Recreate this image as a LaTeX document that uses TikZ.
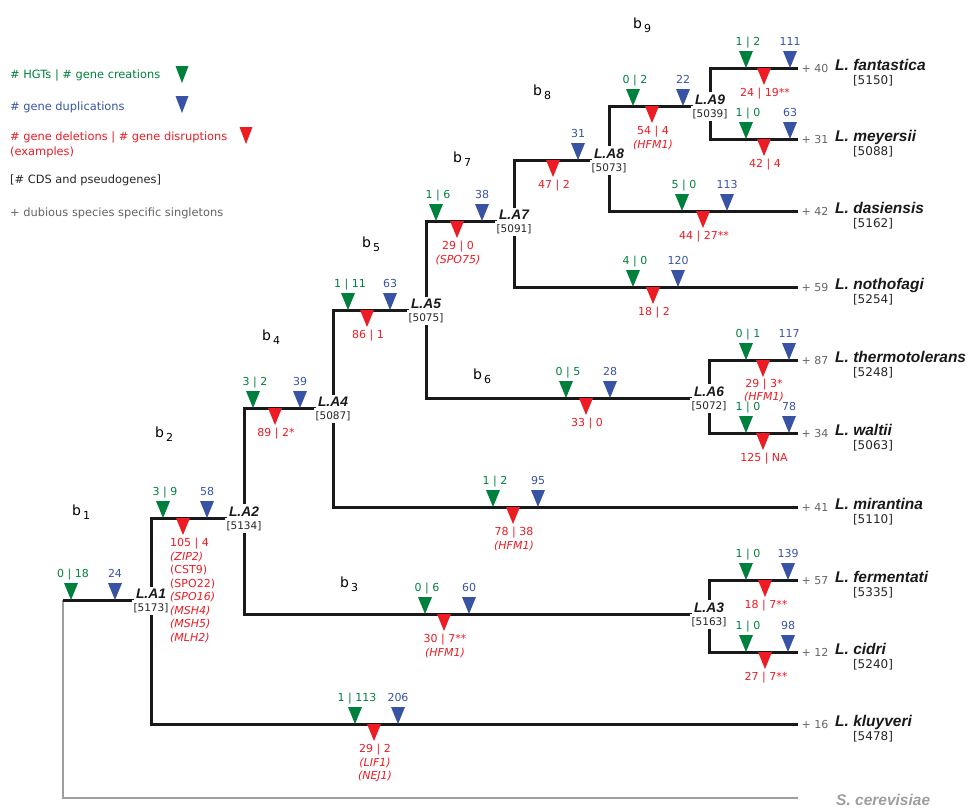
\documentclass[tikz,border=0pt]{standalone}
\usepackage{fontspec}
\setmainfont{DejaVu Sans}
\newfontfamily\spfont{Liberation Sans}
\definecolor{hgtc}{RGB}{0,128,61}
\definecolor{dupc}{RGB}{57,83,164}
\definecolor{delc}{RGB}{237,28,36}
\definecolor{rootc}{RGB}{158,158,158}
\definecolor{plusc}{RGB}{100,100,100}

\newcommand{\hgtmark}[4]{%
  \fill[hgtc] (#2,#3) -- ++(-7,-17) -- ++(14,0) -- cycle;
  \node[gainlab] (#1g) at (#2+2,#3-23) {#4};}
\newcommand{\dupmark}[4]{%
  \fill[dupc] (#2,#3) -- ++(-7,-17) -- ++(14,0) -- cycle;
  \node[duplab] (#1d) at (#2,#3-23) {#4};}
\newcommand{\delmark}[5][]{%
  \fill[delc] (#3-7,#4) -- ++(14,0) -- ++(-7,17) -- cycle;
  \node[losslab,#1] (#2l) at (#3+1,#4+20) {#5};}
\newcommand{\leafnode}[5]{%
  \coordinate (#1) at (798,#2);
  \node[plus] (#1p) at (815,#2+4) {+ #3};
  \node[species] (#1n) at (835,#2+2) {#4};
  \node[cds] (#1c) at (873,#2+16) {[#5]};}
\newcommand{\anclab}[3]{%
  \node[ancname,yshift=2pt] (#1n) at (#1) {#2};
  \node[anccds,yshift=-11pt] (#1c) at (#1) {[#3]};}
\newcommand{\bsub}[1]{b\kern2pt\raisebox{-4.5pt}{\fontsize{11}{11}\selectfont#1}}

\begin{document}
\begin{tikzpicture}[x=1pt,y=-1pt,line join=miter]
  \tikzstyle{branch}=[line width=3pt,black!90,to path={|- (\tikztotarget) \tikztonodes}]
  \tikzstyle{rootline}=[line width=2.8pt,rootc,to path={|- (\tikztotarget) \tikztonodes}]
  \tikzstyle{num}=[anchor=base,inner sep=1pt,font=\fontsize{11}{13}\selectfont]
  \tikzstyle{gainlab}=[num,text=hgtc]
  \tikzstyle{duplab}=[num,text=dupc]
  \tikzstyle{losslab}=[anchor=north,align=center,inner sep=0pt,text=delc,font=\fontsize{11}{13.5}\selectfont]
  \tikzstyle{plus}=[anchor=base,inner sep=0pt,text=plusc,font=\fontsize{11}{13}\selectfont]
  \tikzstyle{species}=[anchor=base west,inner sep=0pt,text=black!90,font=\spfont\bfseries\itshape\fontsize{15.5}{17}\selectfont]
  \tikzstyle{cds}=[anchor=base,inner sep=0pt,text=black!85,font=\fontsize{12}{14}\selectfont]
  \tikzstyle{ancname}=[anchor=base,fill=white,inner sep=2pt,text=black!90,font=\spfont\bfseries\itshape\fontsize{13.8}{15}\selectfont]
  \tikzstyle{anccds}=[anchor=base,fill=white,inner xsep=2pt,inner ysep=3pt,text=black!85,font=\fontsize{10.5}{12}\selectfont]
  \tikzstyle{blab}=[anchor=base west,inner sep=0pt,font=\fontsize{14}{16}\selectfont]
  \tikzstyle{leg}=[anchor=base west,inner sep=0pt,font=\fontsize{11.4}{13}\selectfont]

  \useasboundingbox (0,0) rectangle (969,807);

  \node[leg,text=hgtc] (leg1) at (10,78) {\# HGTs | \# gene creations};
  \node[leg,text=dupc] (leg2) at (10,110) {\# gene duplications};
  \node[leg,text=delc] (leg3) at (10,140) {\# gene deletions | \# gene disruptions};
  \node[leg,text=delc] (leg4) at (10,155) {(examples)};
  \node[leg,text=black!85] (leg5) at (10,183) {[\# CDS and pseudogenes]};
  \node[leg,text=plusc] (leg6) at (10,216) {+ dubious species specific singletons};
  \fill[hgtc] (182,83) -- ++(-6.5,-17) -- ++(13,0) -- cycle;
  \fill[dupc] (182,113) -- ++(-6.5,-17) -- ++(13,0) -- cycle;
  \fill[delc] (246,144) -- ++(-6.5,-17) -- ++(13,0) -- cycle;

  \coordinate (R)  at (63,600);
  \coordinate (A1) at (151,600);
  \coordinate (A2) at (244,518);
  \coordinate (A3) at (709,614);
  \coordinate (A4) at (333,408);
  \coordinate (A5) at (426,310);
  \coordinate (A6) at (709,398);
  \coordinate (A7) at (514,221);
  \coordinate (A8) at (609,160);
  \coordinate (A9) at (710,106);

  \leafnode{fan}{68}{40}{L. fantastica}{5150}
  \leafnode{mey}{139}{31}{L. meyersii}{5088}
  \leafnode{das}{211}{42}{L. dasiensis}{5162}
  \leafnode{not}{287}{59}{L. nothofagi}{5254}
  \leafnode{the}{360}{87}{L. thermotolerans}{5248}
  \leafnode{wal}{433}{34}{L. waltii}{5063}
  \leafnode{mir}{507}{41}{L. mirantina}{5110}
  \leafnode{fer}{580}{57}{L. fermentati}{5335}
  \leafnode{cid}{652}{12}{L. cidri}{5240}
  \leafnode{klu}{724}{16}{L. kluyveri}{5478}
  \coordinate (cer) at (798,798);
  \node[species,text=rootc] (cern) at (836,805) {S. cerevisiae};

  \path (R)  edge[rootline] (cer)
        (R)  edge[branch] (A1)
        (A1) edge[branch] (A2)
        (A1) edge[branch] (klu)
        (A2) edge[branch] (A4)
        (A2) edge[branch] (A3)
        (A3) edge[branch] (fer)
        (A3) edge[branch] (cid)
        (A4) edge[branch] (A5)
        (A4) edge[branch] (mir)
        (A5) edge[branch] (A7)
        (A5) edge[branch] (A6)
        (A6) edge[branch] (the)
        (A6) edge[branch] (wal)
        (A7) edge[branch] (A8)
        (A7) edge[branch] (not)
        (A8) edge[branch] (A9)
        (A8) edge[branch] (das)
        (A9) edge[branch] (fan)
        (A9) edge[branch] (mey);

  \anclab{A1}{L.A1}{5173}
  \anclab{A2}{L.A2}{5134}
  \anclab{A3}{L.A3}{5163}
  \anclab{A4}{L.A4}{5087}
  \anclab{A5}{L.A5}{5075}
  \anclab{A6}{L.A6}{5072}
  \anclab{A7}{L.A7}{5091}
  \anclab{A8}{L.A8}{5073}
  \anclab{A9}{L.A9}{5039}

  \node[blab] (b1) at (72,515) {\bsub{1}};
  \node[blab] (b2) at (155,437) {\bsub{2}};
  \node[blab] (b3) at (340,587) {\bsub{3}};
  \node[blab] (b4) at (262,340) {\bsub{4}};
  \node[blab] (b5) at (362,247) {\bsub{5}};
  \node[blab] (b6) at (473,379) {\bsub{6}};
  \node[blab] (b7) at (453,162) {\bsub{7}};
  \node[blab] (b8) at (533,95) {\bsub{8}};
  \node[blab] (b9) at (633,28) {\bsub{9}};

  \hgtmark{b1}{71}{600}{0 | 18}
  \dupmark{b1}{115}{600}{24}
  \hgtmark{b2}{163}{518}{3 | 9}
  \dupmark{b2}{207}{518}{58}
  \delmark[anchor=north west,align=left,xshift=-14pt]{b2}{183}{518}{105 | 4\\\textit{(ZIP2)}\\(CST9)\\(SPO22)\\\textit{(SPO16)}\\\textit{(MSH4)}\\\textit{(MSH5)}\\\textit{(MLH2)}}
  \hgtmark{b3}{425}{614}{0 | 6}
  \dupmark{b3}{469}{614}{60}
  \delmark{b3}{444}{614}{30 | 7**\\\textit{(HFM1)}}
  \hgtmark{b4}{253}{408}{3 | 2}
  \dupmark{b4}{300}{408}{39}
  \delmark{b4}{275}{408}{89 | 2*}
  \hgtmark{b5}{348}{310}{1 | 11}
  \dupmark{b5}{390}{310}{63}
  \delmark{b5}{367}{310}{86 | 1}
  \hgtmark{b6}{566}{398}{0 | 5}
  \dupmark{b6}{610}{398}{28}
  \delmark{b6}{586}{398}{33 | 0}
  \hgtmark{b7}{436}{221}{1 | 6}
  \dupmark{b7}{482}{221}{38}
  \delmark{b7}{457}{221}{29 | 0\\\textit{(SPO75)}}
  \dupmark{b8}{578}{160}{31}
  \delmark{b8}{553}{160}{47 | 2}
  \hgtmark{b9}{633}{106}{0 | 2}
  \dupmark{b9}{683}{106}{22}
  \delmark{b9}{652}{106}{54 | 4\\\textit{(HFM1)}}
  \hgtmark{fan}{746}{68}{1 | 2}
  \dupmark{fan}{790}{68}{111}
  \delmark{fan}{764}{68}{24 | 19**}
  \hgtmark{mey}{746}{139}{1 | 0}
  \dupmark{mey}{790}{139}{63}
  \delmark{mey}{764}{139}{42 | 4}
  \hgtmark{das}{682}{211}{5 | 0}
  \dupmark{das}{727}{211}{113}
  \delmark{das}{703}{211}{44 | 27**}
  \hgtmark{not}{633}{287}{4 | 0}
  \dupmark{not}{678}{287}{120}
  \delmark{not}{653}{287}{18 | 2}
  \hgtmark{the}{746}{360}{0 | 1}
  \dupmark{the}{789}{360}{117}
  \delmark[yshift=1pt,font=\fontsize{11}{12.5}\selectfont]{the}{763}{360}{29 | 3*\\\textit{(HFM1)}}
  \hgtmark{wal}{746}{433}{1 | 0}
  \dupmark{wal}{789}{433}{78}
  \delmark{wal}{763}{433}{125 | NA}
  \hgtmark{mir}{493}{507}{1 | 2}
  \dupmark{mir}{538}{507}{95}
  \delmark{mir}{513}{507}{78 | 38\\\textit{(HFM1)}}
  \hgtmark{fer}{746}{580}{1 | 0}
  \dupmark{fer}{788}{580}{139}
  \delmark{fer}{765}{580}{18 | 7**}
  \hgtmark{cid}{746}{652}{1 | 0}
  \dupmark{cid}{788}{652}{98}
  \delmark{cid}{765}{652}{27 | 7**}
  \hgtmark{klu}{355}{724}{1 | 113}
  \dupmark{klu}{398}{724}{206}
  \delmark{klu}{374}{724}{29 | 2\\\textit{(LIF1)}\\\textit{(NEJ1)}}
\end{tikzpicture}
\end{document}
